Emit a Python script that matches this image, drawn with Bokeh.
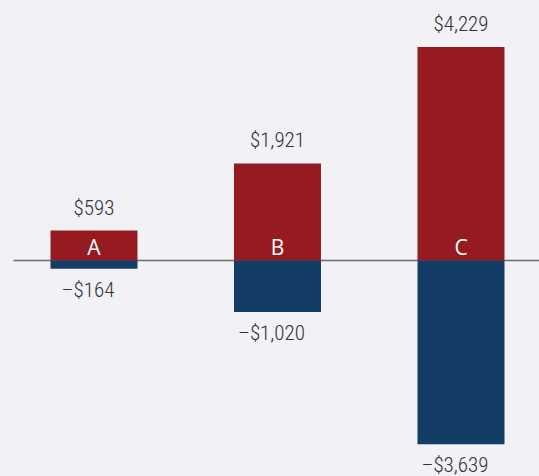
from bokeh.plotting import figure
from bokeh.models import ColumnDataSource, Range1d
from bokeh.core.properties import value
from bokeh.embed import file_html
from bokeh.resources import INLINE

categories = ["A", "B", "C"]
gains = [593, 1921, 4229]
losses = [-164, -1020, -3639]

BG = "#f1f1f6"
RED = "#961b21"
BLUE = "#133c66"
TXT = "#333333"
LABEL_FONT = "'Roboto Condensed Light', 'Roboto Condensed', 'Liberation Sans Narrow', 'DejaVu Sans Condensed', sans-serif"

xs = list(range(len(categories)))
src = ColumnDataSource(dict(
    x=xs,
    cat=categories,
    gain=gains,
    loss=losses,
    gain_lbl=[f"${v:,}" for v in gains],
    loss_lbl=[f"\u2013${abs(v):,}" for v in losses],
))

W, H = 539, 476
x_start, x_end = -0.5095, 2.4278
p = figure(width=W, height=H, output_backend="svg", toolbar_location=None,
           x_range=Range1d(x_start, x_end), y_range=Range1d(-4277, 5148),
           min_border=0)
p.axis.visible = False
p.grid.visible = False
p.outline_line_color = None
p.background_fill_color = BG
p.border_fill_color = BG

# zero line
p.segment(x0=[x_start + 0.071], x1=[x_end], y0=[0], y1=[0],
          line_color="#6e6e6e", line_width=1.5)

bw = 0.474
p.vbar(x="x", top="gain", bottom=0, width=bw, source=src,
       fill_color=RED, line_color=None)
p.vbar(x="x", top=0, bottom="loss", width=bw, source=src,
       fill_color=BLUE, line_color=None)

p.text(x="x", y="gain", text="gain_lbl", source=src, text_align="center",
       text_baseline="alphabetic", y_offset=-23, text_font=value(LABEL_FONT),
       text_font_size="21px", text_color=TXT)
p.text(x="x", y="loss", text="loss_lbl", source=src, text_align="center",
       text_baseline="alphabetic", y_offset=21, x_offset=-6,
       text_font=value(LABEL_FONT), text_font_size="21px", text_color=TXT)
p.text(x="x", y=0, text="cat", source=src, text_align="center",
       text_baseline="alphabetic", y_offset=-13, text_font=value("Open Sans"),
       text_font_size="21px", text_color="white")

html = file_html(p, INLINE)
html = html.replace("</head>", f"<style>html, body {{ background: {BG}; }}</style></head>", 1)
open("out.html", "w").write(html)
